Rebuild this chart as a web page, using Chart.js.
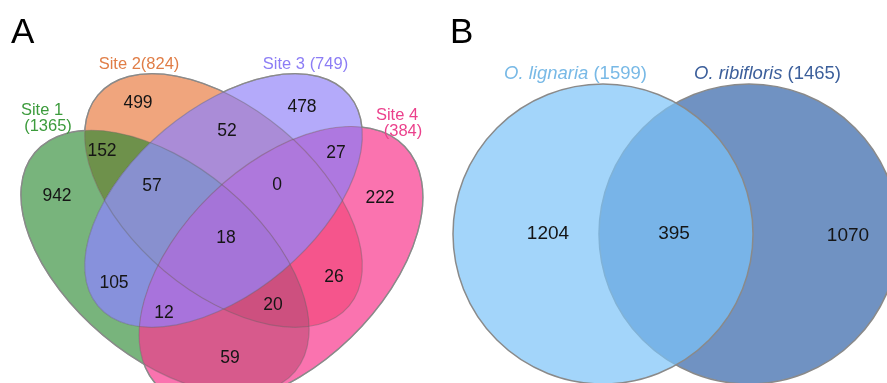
<!DOCTYPE html>
<html>
<head>
<meta charset="utf-8">
<script src="https://cdn.jsdelivr.net/npm/chart.js@4.4.1/dist/chart.umd.min.js"></script>
<style>
  html, body { margin: 0; padding: 0; background: #fff; }
  #wrap { position: relative; width: 887px; height: 383px; overflow: hidden; }
  canvas { position: absolute; top: 0; }
  #venn4 { left: 0; }
  #venn2 { left: 440px; }
</style>
</head>
<body>
<div id="wrap">
  <canvas id="venn4" width="440" height="383"></canvas>
  <canvas id="venn2" width="447" height="383"></canvas>
</div>
<script>
// ---- data ----
const siteNames = ['Site 1', 'Site 2', 'Site 3', 'Site 4'];
const siteTotals = [1365, 824, 749, 384];
// region = which sites share the genes (1..4)
const regionKeys = ['1', '2', '3', '4', '12', '23', '34', '13', '24', '14', '123', '234', '134', '124', '1234'];
const regionCounts = [942, 499, 478, 222, 152, 52, 27, 105, 26, 59, 57, 0, 12, 20, 18];

const speciesNames = ['O. lignaria', 'O. ribifloris'];
const speciesTotals = [1599, 1465];
const pairKeys = ['1', '12', '2'];
const pairCounts = [1204, 395, 1070];

// ---- layout (chart units, y down) ----
const FONT = '"Liberation Sans", Arial, Helvetica, sans-serif';

const siteShapes = [
  { cx: 165, cy: 262, a: 170, b: 96, rot: 40 },
  { cx: 223.5, cy: 200.5, a: 164, b: 92, rot: 40 },
  { cx: 223.5, cy: 200.5, a: 164, b: 92, rot: -40 },
  { cx: 281, cy: 266, a: 172, b: 100, rot: -44 }
];
const siteColors = ['#3c9b3c', '#e07d46', '#8c7df5', '#eb418c'];
const siteLabelPos = [
  [[42, 109], [48, 125]],
  [[139, 63.5]],
  [[305.5, 63.5]],
  [[397, 114], [403, 130]]
];

const regionLabelX = [57, 138, 302, 380, 102, 227, 336, 114, 334, 230, 152, 277, 164, 273, 226];
const regionLabelY = [195, 102, 106, 197, 150, 130, 152, 282, 276, 357, 185, 184, 312, 304, 237];
const regionColors = {
  '1': '#78b47c', '2': '#f0a57d', '3': '#b4aafa', '4': '#fa73af',
  '12': '#6e914b', '23': '#aa8cd7', '34': '#ae78e0', '13': '#8791dc',
  '24': '#f5558c', '14': '#d75a8c', '123': '#8890cf', '234': '#ae78dc',
  '134': '#a873dc', '124': '#cd507f', '1234': '#a574d8'
};

const circleX = [163, 309];
const circleY = 234;
const circleR = 150;
const circleFill = ['rgba(124,195,248,0.7)', '#7092c2'];
const speciesColors = ['#78b9e6', '#3c5f9b'];
const speciesLabelX = [64, 254];
const speciesLabelY = 72;
const pairLabelX = [108, 234, 408];
const pairLabelY = [232, 232, 234];

function drawCentered(ctx, text, x, y, size, color) {
  ctx.font = size + 'px ' + FONT;
  ctx.fillStyle = color;
  ctx.textAlign = 'center';
  ctx.textBaseline = 'alphabetic';
  ctx.fillText(text, x, y + size * 0.36);
}

function ellipsePath(e, xs, ys) {
  const px = xs.getPixelForValue(e.cx), py = ys.getPixelForValue(e.cy);
  const rx = Math.abs(xs.getPixelForValue(e.cx + e.a) - px);
  const ry = Math.abs(ys.getPixelForValue(e.cy + e.b) - py);
  const p = new Path2D();
  p.ellipse(px, py, rx, ry, e.rot * Math.PI / 180, 0, Math.PI * 2);
  return p;
}

const vennRegions = {
  id: 'vennRegions',
  beforeDatasetsDraw(chart) {
    const { ctx, scales: { x, y }, width, height } = chart;
    const paths = siteShapes.map(e => ellipsePath(e, x, y));
    // paint intersections from single sets up to all four
    const order = regionKeys.slice().sort((p, q) => p.length - q.length);
    order.forEach(key => {
      ctx.save();
      key.split('').forEach(s => ctx.clip(paths[+s - 1]));
      ctx.fillStyle = regionColors[key];
      ctx.fillRect(0, 0, width, height);
      ctx.restore();
    });
    // faint inner edges
    ctx.save();
    ctx.lineWidth = 1.2;
    ctx.strokeStyle = 'rgba(100,100,100,0.4)';
    paths.forEach(p => ctx.stroke(p));
    ctx.restore();
    // stronger outer edge
    paths.forEach((p, i) => {
      ctx.save();
      paths.forEach((q, j) => {
        if (j === i) return;
        const outside = new Path2D();
        outside.rect(-5, -5, width + 10, height + 10);
        outside.addPath(q);
        ctx.clip(outside, 'evenodd');
      });
      ctx.lineWidth = 1.4;
      ctx.strokeStyle = '#8a8a8a';
      ctx.stroke(p);
      ctx.restore();
    });
  },
  afterDatasetsDraw(chart) {
    const { ctx, scales: { x, y } } = chart;
    const meta = chart.getDatasetMeta(0);
    ctx.save();
    meta.data.forEach((pt, i) => drawCentered(ctx, String(regionCounts[i]), pt.x, pt.y, 17.5, '#151515'));
    siteNames.forEach((name, i) => {
      const pos = siteLabelPos[i];
      const lines = pos.length > 1 ? [name, '(' + siteTotals[i] + ')']
        : [name + (i === 1 ? '' : ' ') + '(' + siteTotals[i] + ')'];
      lines.forEach((t, j) => drawCentered(ctx, t, x.getPixelForValue(pos[j][0]), y.getPixelForValue(pos[j][1]), 16.5, siteColors[i]));
    });
    ctx.font = '35px ' + FONT;
    ctx.fillStyle = '#000';
    ctx.textAlign = 'left';
    ctx.fillText('A', x.getPixelForValue(11), y.getPixelForValue(43));
    ctx.restore();
  }
};

const vennPair = {
  id: 'vennPair',
  afterDatasetsDraw(chart) {
    const { ctx, scales: { x, y } } = chart;
    ctx.save();
    pairKeys.forEach((k, i) => drawCentered(ctx, String(pairCounts[i]), x.getPixelForValue(pairLabelX[i]), y.getPixelForValue(pairLabelY[i]), 19, '#151515'));
    ctx.textAlign = 'left';
    ctx.textBaseline = 'alphabetic';
    speciesNames.forEach((name, i) => {
      let px = x.getPixelForValue(speciesLabelX[i]);
      const py = y.getPixelForValue(speciesLabelY) + 18.5 * 0.36;
      ctx.fillStyle = speciesColors[i];
      ctx.font = 'italic 18.5px ' + FONT;
      ctx.fillText(name, px, py);
      px += ctx.measureText(name).width;
      ctx.font = '18.5px ' + FONT;
      ctx.fillText(' (' + speciesTotals[i] + ')', px, py);
    });
    ctx.font = '35px ' + FONT;
    ctx.fillStyle = '#000';
    ctx.fillText('B', x.getPixelForValue(10), y.getPixelForValue(43));
    ctx.restore();
  }
};

const baseOptions = (xMax) => ({
  responsive: false,
  animation: false,
  events: [],
  layout: { autoPadding: false, padding: 0 },
  plugins: { legend: { display: false }, tooltip: { enabled: false } },
  scales: {
    x: { type: 'linear', display: false, min: 0, max: xMax },
    y: { type: 'linear', display: false, min: 0, max: 383, reverse: true }
  }
});

new Chart(document.getElementById('venn4'), {
  type: 'scatter',
  data: {
    datasets: [{
      data: regionKeys.map((k, i) => ({ x: regionLabelX[i], y: regionLabelY[i] })),
      pointRadius: 0
    }]
  },
  options: baseOptions(440),
  plugins: [vennRegions]
});

new Chart(document.getElementById('venn2'), {
  type: 'bubble',
  data: {
    datasets: speciesNames.map((name, i) => ({
      label: name,
      data: [{ x: circleX[i], y: circleY }],
      radius: circleR,
      backgroundColor: circleFill[i],
      borderColor: '#8a8a8a',
      borderWidth: 1.5
    }))
  },
  options: baseOptions(447),
  plugins: [vennPair]
});
</script>
</body>
</html>
